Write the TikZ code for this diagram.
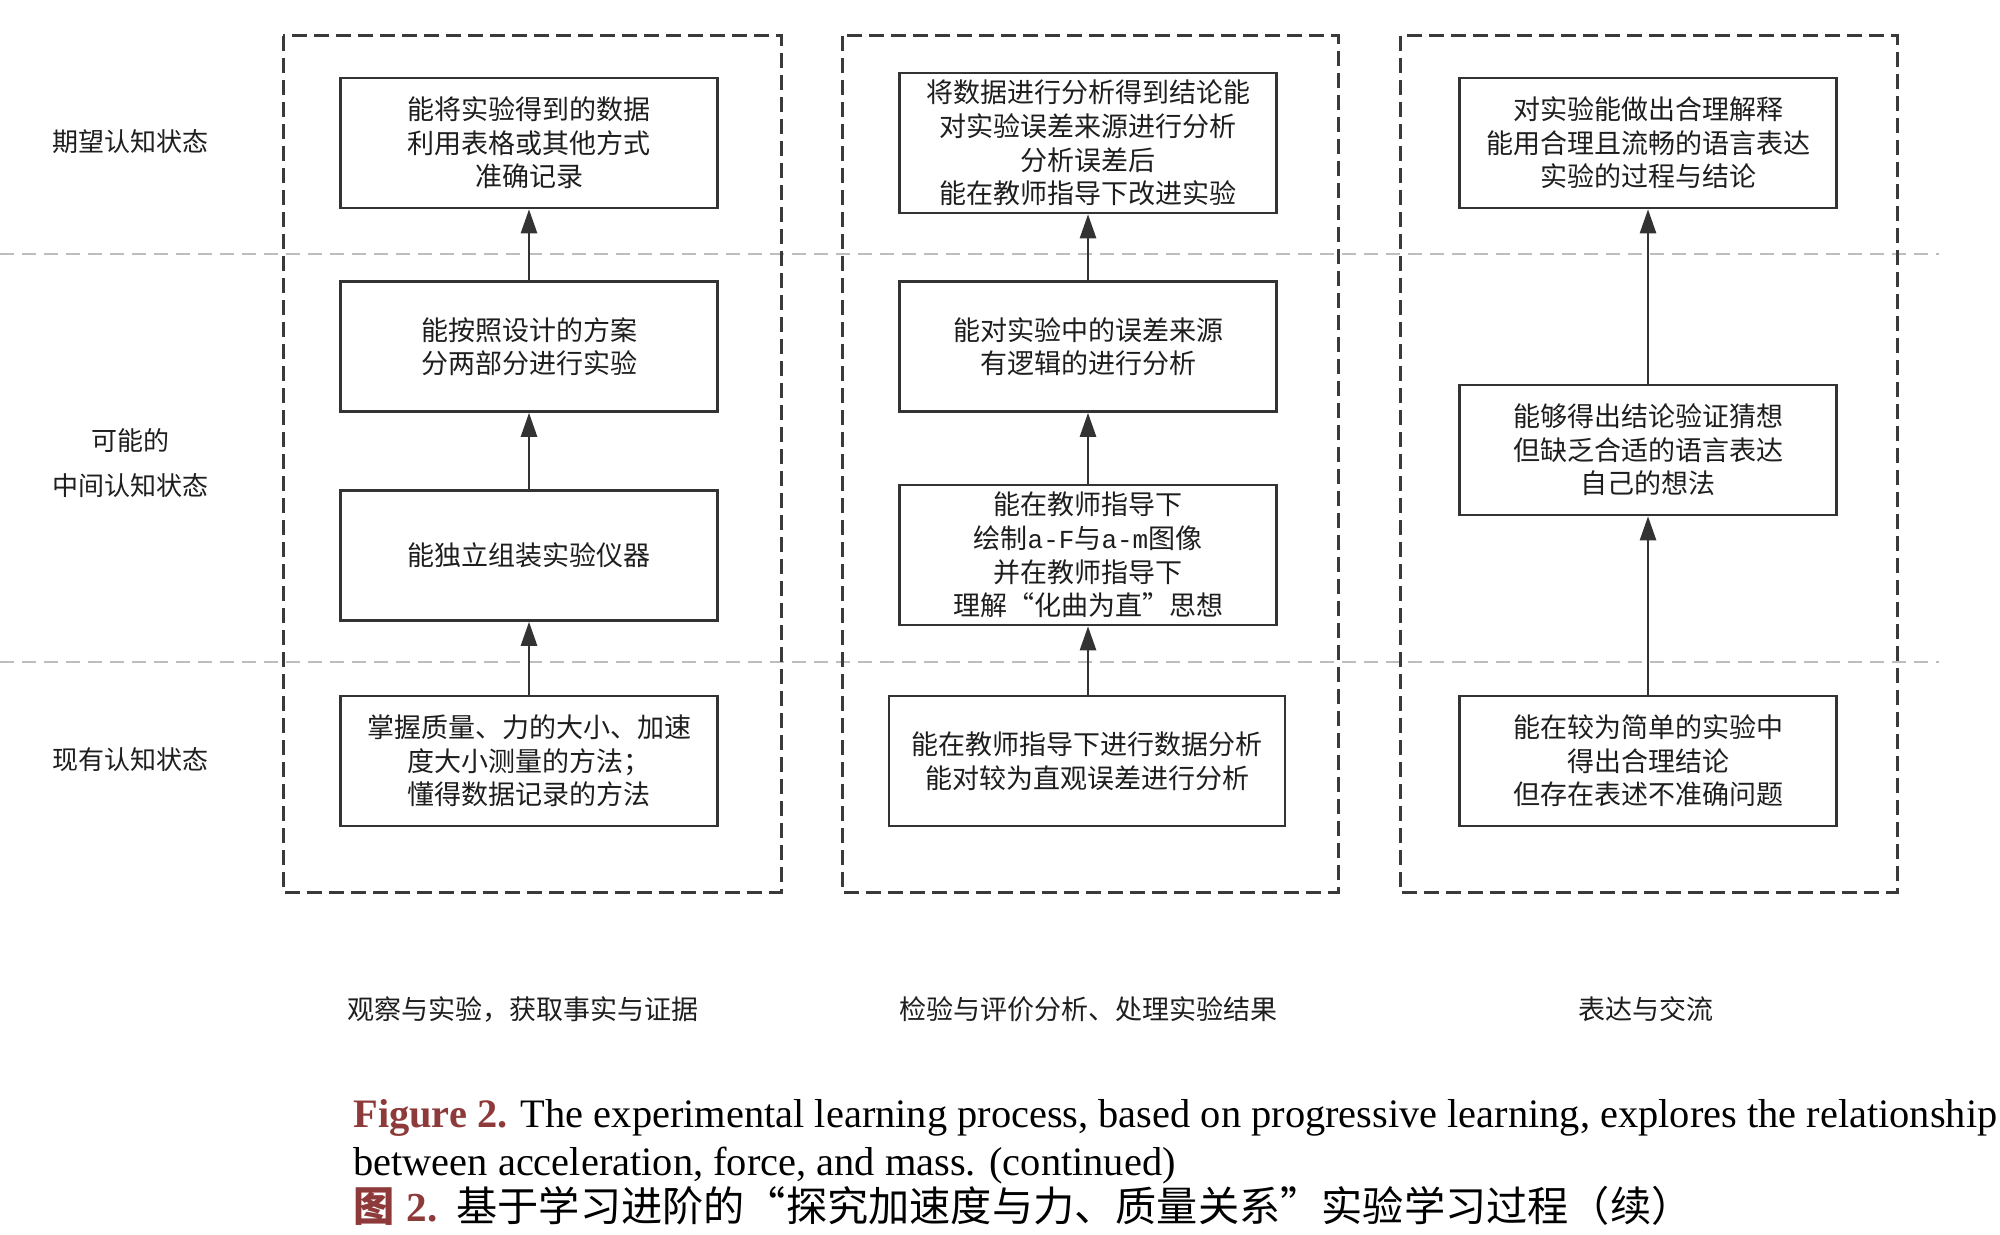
\documentclass[tikz,border=0pt]{standalone}
\usepackage{fontspec}
\usetikzlibrary{arrows.meta}
\newfontfamily\cjk{Noto Sans CJK SC}
\newfontfamily\capfont{Liberation Serif}
\newfontfamily\monof{Liberation Mono}
\definecolor{boxc}{HTML}{333333}
\definecolor{framec}{HTML}{3A3A3A}
\definecolor{glinec}{HTML}{BDBDBD}
\definecolor{figred}{HTML}{8E3A3A}
\definecolor{txt}{HTML}{1E1E1E}
\begin{document}
\begin{tikzpicture}[x=0.5pt,y=-0.5pt,
  stepbox/.style={draw=boxc, line width=1.3pt, minimum width=188.5pt, minimum height=65pt, inner sep=0pt, align=center, text=txt, font=\cjk\fontsize{13.5pt}{16.8pt}\selectfont},
  framebox/.style={draw=framec, line width=1.5pt, dash pattern=on 7.5pt off 3.5pt},
  gline/.style={draw=glinec, line width=1.2pt, dash pattern=on 7pt off 4pt},
  up/.style={draw=boxc, line width=1.3pt, -{Triangle[length=12pt,width=8pt]}},
  lab/.style={align=center, text=txt, inner sep=0pt, font=\cjk\fontsize{13pt}{22.5pt}\selectfont}
]
\useasboundingbox (0,0) rectangle (2000,1235);
\fill[white] (0,0) rectangle (2000,1235);

% gray level separators
\draw[gline] (0,254) -- (1939,254);
\draw[gline] (0,662) -- (1939,662);

% column frames
\draw[framebox] (283,36) rectangle (781,892);
\draw[framebox] (842,36) rectangle (1338,892);
\draw[framebox] (1400,36) rectangle (1897,892);

% left labels
\node[lab] (l1) at (130,142) {期望认知状态};
\node[lab] (l2) at (130,463) {可能的\\中间认知状态};
\node[lab] (l3) at (130,760) {现有认知状态};

% column 1
\node[stepbox] (a1) at (529,143) {能将实验得到的数据\\利用表格或其他方式\\准确记录};
\node[stepbox] (a2) at (529,346.5) {能按照设计的方案\\分两部分进行实验};
\node[stepbox] (a3) at (529,555.5) {能独立组装实验仪器};
\node[stepbox] (a4) at (529,761) {掌握质量、力的大小、加速\\度大小测量的方法；\\懂得数据记录的方法};

% column 2
\node[stepbox, minimum height=70pt] (b1) at (1088,143) {将数据进行分析得到结论能\\对实验误差来源进行分析\\分析误差后\\能在教师指导下改进实验};
\node[stepbox] (b2) at (1088,346.5) {能对实验中的误差来源\\有逻辑的进行分析};
\node[stepbox, minimum height=70pt] (b3) at (1088,555) {能在教师指导下\\绘制{\monof\fontsize{13pt}{14pt}\selectfont a-F}与{\monof\fontsize{13pt}{14pt}\selectfont a-m}图像\\并在教师指导下\\理解“化曲为直”思想};
\node[stepbox, minimum width=198pt] (b4) at (1087,761) {能在教师指导下进行数据分析\\能对较为直观误差进行分析};

% column 3
\node[stepbox] (c1) at (1648,143) {对实验能做出合理解释\\能用合理且流畅的语言表达\\实验的过程与结论};
\node[stepbox] (c2) at (1648,450) {能够得出结论验证猜想\\但缺乏合适的语言表达\\自己的想法};
\node[stepbox] (c3) at (1648,761) {能在较为简单的实验中\\得出合理结论\\但存在表述不准确问题};

% arrows
\draw[up] (a4) -- (a3);
\draw[up] (a3) -- (a2);
\draw[up] (a2) -- (a1);
\draw[up] (b4.north -| b3) -- (b3);
\draw[up] (b3) -- (b2);
\draw[up] (b2) -- (b1);
\draw[up] (c3) -- (c2);
\draw[up] (c2) -- (c1);

% bottom labels
\node[lab, font=\cjk\fontsize{13.5pt}{16pt}\selectfont] (f1) at (523,1009) {观察与实验，获取事实与证据};
\node[lab, font=\cjk\fontsize{13.5pt}{16pt}\selectfont] (f2) at (1088,1009) {检验与评价分析、处理实验结果};
\node[lab, font=\cjk\fontsize{13.5pt}{16pt}\selectfont] (f3) at (1646,1009) {表达与交流};

% caption
\node[anchor=base west, inner sep=0pt, font=\capfont\fontsize{20.2pt}{22pt}\selectfont] (cap1) at (353,1127)
  {\textcolor{figred}{\textbf{Figure 2.}} The experimental learning process, based on progressive learning, explores the relationship};
\node[anchor=base west, inner sep=0pt, font=\capfont\fontsize{20.2pt}{22pt}\selectfont] (cap2) at (353,1175)
  {between acceleration, force, and mass. (continued)};
\node[anchor=base west, inner sep=0pt, font=\cjk\fontsize{20.6pt}{22pt}\selectfont] (cap3) at (353,1221)
  {\textcolor{figred}{\bfseries 图\hspace{0.3em}{\capfont 2.}}\hspace{0.45em}基于学习进阶的“探究加速度与力、质量关系”实验学习过程（续）};
\end{tikzpicture}
\end{document}
